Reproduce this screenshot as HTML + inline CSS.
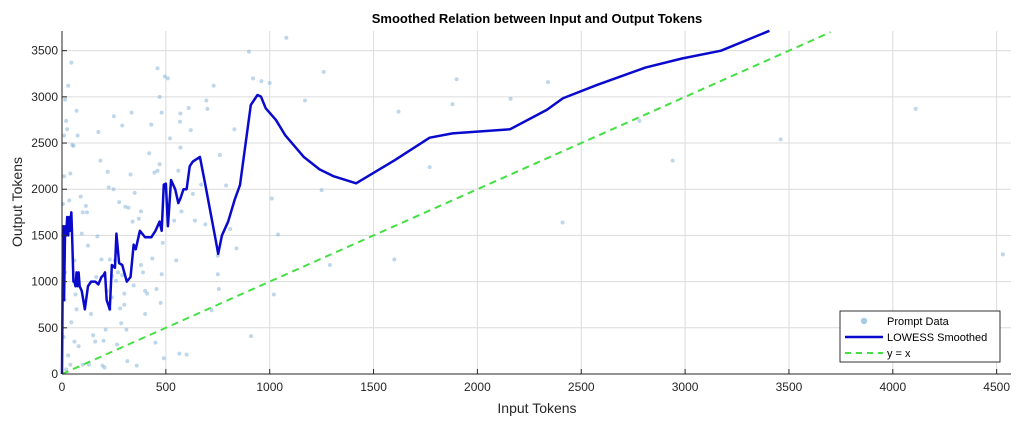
<!DOCTYPE html>
<html><head><meta charset="utf-8"><style>
body{margin:0;background:#fff;font-family:"Liberation Sans",sans-serif}
svg text{font-family:"Liberation Sans",sans-serif;fill:#262626}
</style></head><body>
<svg id="chart" width="1018" height="420" viewBox="0 0 1018 420" xmlns="http://www.w3.org/2000/svg">
<rect width="1018" height="420" fill="#fff"/>
<text x="537" y="23" text-anchor="middle" font-size="13" font-weight="bold" style="fill:#000">Smoothed Relation between Input and Output Tokens</text>
<g id="grid"></g>
<g id="scatter"></g>
<g id="lines"></g>
<g id="axes"></g>
<text x="537" y="413" text-anchor="middle" font-size="14">Input Tokens</text>
<text transform="translate(22,202) rotate(-90)" text-anchor="middle" font-size="14">Output Tokens</text>
<g>
<rect x="840" y="311" width="160" height="51" fill="#fff" stroke="#000" stroke-width="0.8"/>
<circle cx="864" cy="321" r="3.2" fill="#a9cbe4"/>
<text x="887" y="325" font-size="11" style="fill:#000">Prompt Data</text>
<line x1="845" y1="337" x2="883" y2="337" stroke="#0a0acd" stroke-width="2.5"/>
<text x="887" y="341" font-size="11" style="fill:#000">LOWESS Smoothed</text>
<line x1="845" y1="353" x2="883" y2="353" stroke="#44e044" stroke-width="2" stroke-dasharray="6,5"/>
<text x="887" y="357" font-size="11" style="fill:#000">y = x</text>
</g>
</svg>
<script>
const xTicks=[0,500,1000,1500,2000,2500,3000,3500,4000,4500];
const yTicks=[0,500,1000,1500,2000,2500,3000,3500];
const lowessX=[0,5,10,15,20,25,30,35,38,45,
 50,55,60,65,70,75,80,85,95,110,
 125,140,160,175,190,200,207,215,230,240,
 255,262,275,290,312,330,345,355,375,400,
 430,450,470,480,490,500,510,525,545,560,
 570,585,600,615,630,664,690,715,740,752,
 770,800,831,857,909,941,958,981,1030,1074,
 1163,1240,1305,1416,1603,1770,1880,2157,2334,2412,
 2576,2809,2985,3173,3406];
const lowessY=[0,1600,800,1600,1500,1700,1500,1700,1550,1750,
 1400,1000,1000,950,1100,950,1100,950,900,700,
 950,1000,1000,970,1050,1070,1100,800,700,1180,
 1150,1520,1200,1180,1000,1050,1400,1350,1550,1480,
 1480,1550,1650,1550,2050,2060,1600,2100,2000,1850,
 1900,2000,2000,2250,2300,2350,2050,1750,1450,1300,
 1500,1650,1884,2046,2912,3020,3002,2876,2750,2587,
 2352,2215,2143,2064,2316,2558,2605,2649,2859,2985,
 3129,3317,3415,3500,3715];
const pointsX=[4530,4110,3460,2940,2410,2340,1900,1880,1770,1600,1620,2160,2780,1290,1260,1250,1170,1080,1040,1020,1010,1000,960,920,900,910,840,830,810,790,760,750,750,755,730,720,700,695,690,670,640,630,620,610,600,575,570,568,570,565,560,550,540,520,510,495,490,485,480,480,475,470,470,460,460,455,450,445,435,430,420,410,400,390,380,370,350,340,345,335,330,320,315,310,305,300,290,290,285,280,275,270,265,260,250,248,240,240,230,225,220,215,210,205,200,195,190,185,175,170,165,150,140,125,120,115,110,100,95,90,80,75,70,70,65,60,55,50,45,45,40,35,30,25,20,15,10,10,5,5,8,12,15,20,30,40,60,100,130,160,230,255,300,360,380,400];
const pointsY=[1295,2870,2540,2310,1640,3160,3190,2920,2240,1240,2840,2980,2740,1180,3270,1990,2960,3640,1510,860,1900,3150,3170,3200,3490,410,1360,2650,1570,2040,2370,1280,1080,920,3120,690,2870,2960,1620,2050,1660,1950,2640,2880,210,1760,2450,2730,2820,220,2200,1230,1660,2550,3200,3220,170,1420,2830,1080,770,3000,2270,3310,2200,920,340,2180,1250,2700,2390,870,900,1100,1760,1680,1960,1650,960,2830,2160,1800,140,480,1810,870,2690,1070,550,710,1860,1100,320,1010,2790,2000,830,1060,1240,2020,2190,900,480,70,360,90,1240,2310,2620,1490,1050,420,650,1390,1750,1820,750,1750,1520,1920,300,2580,2850,700,860,1230,2470,2480,3370,560,2170,1880,3120,2650,2740,2970,2580,2140,1840,1500,400,800,1100,50,200,100,350,100,100,350,700,1230,750,90,1180,650];
const identity=[0,3700];
const X0=62,XS=0.2077,Y0=374,YS=0.09238,XR=1011,YT=31;
function sx(v){return X0+v*XS}
function sy(v){return Y0-v*YS}
const NS='http://www.w3.org/2000/svg';
function mk(tag,attrs,parent){const e=document.createElementNS(NS,tag);for(const k in attrs)e.setAttribute(k,attrs[k]);parent.appendChild(e);return e}
const grid=document.getElementById('grid'),axes=document.getElementById('axes');
xTicks.forEach(t=>{
 const g=mk('line',{x1:sx(t),x2:sx(t),y1:YT,y2:Y0,stroke:'#dcdcdc','stroke-width':1},grid);
 
 
 const tk=mk('line',{x1:sx(t),x2:sx(t),y1:Y0,y2:Y0-5,stroke:'#262626','stroke-width':1},axes);
 
 
 const lb=mk('text',{x:sx(t),y:Y0+17,'text-anchor':'middle','font-size':12},axes);lb.textContent=t;
 
 
});
yTicks.forEach(t=>{
 const g=mk('line',{x1:X0,x2:XR,y1:sy(t),y2:sy(t),stroke:'#dcdcdc','stroke-width':1},grid);
 
 
 const tk=mk('line',{x1:X0,x2:X0+5,y1:sy(t),y2:sy(t),stroke:'#262626','stroke-width':1},axes);
 
 
 const lb=mk('text',{x:X0-4,y:sy(t)+4,'text-anchor':'end','font-size':12},axes);lb.textContent=t;
 
 
});
const xa=mk('line',{x1:X0,x2:XR,y1:Y0,y2:Y0,stroke:'#262626','stroke-width':1},axes);


const ya=mk('line',{x1:X0,x2:X0,y1:YT,y2:Y0,stroke:'#262626','stroke-width':1},axes);


const sc=document.getElementById('scatter');
pointsX.forEach((x,i)=>{
 const c=mk('circle',{cx:sx(x),cy:sy(pointsY[i]),r:2,fill:'#7fb0d8','fill-opacity':0.5},sc);
 
 
});
const lines=document.getElementById('lines');
const idl=mk('line',{x1:sx(identity[0]),y1:sy(identity[0]),x2:sx(identity[1]),y2:sy(identity[1]),stroke:'#44e044','stroke-width':2,'stroke-dasharray':'7,5'},lines);


const n=Math.min(lowessX.length,lowessY.length);
const pts=[];for(let i=0;i<n;i++)pts.push(sx(lowessX[i])+','+sy(lowessY[i]));
const pl=mk('polyline',{points:pts.join(' '),fill:'none',stroke:'#0a0acd','stroke-width':2.5,'stroke-linejoin':'round'},lines);


</script>
</body></html>
